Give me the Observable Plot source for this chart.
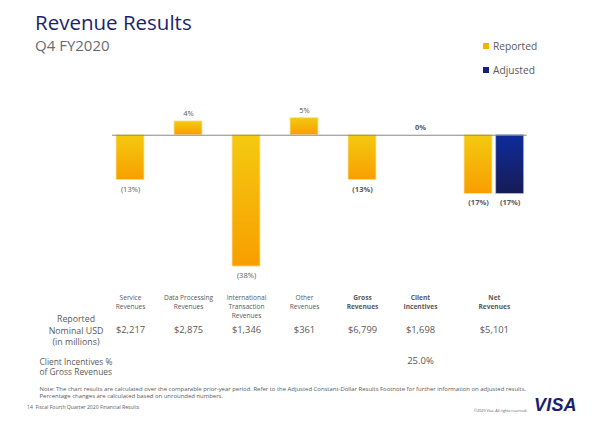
<!DOCTYPE html>
<html>
<head>
<meta charset="utf-8">
<script src="https://cdn.jsdelivr.net/npm/d3@7"></script>
<script src="https://cdn.jsdelivr.net/npm/@observablehq/plot@0.6"></script>
<style>
  html, body { margin: 0; padding: 0; background: #fff; }
  #page { position: relative; width: 602px; height: 427px; overflow: hidden; font-family: "Open Sans", "Noto Sans", sans-serif; color: #595959; }
  .abs { position: absolute; white-space: nowrap; }
  #title { left: 35px; top: 12px; font-size: 20.5px; line-height: 1; color: #1a1f71; }
  #subtitle { left: 35px; top: 38px; font-size: 15px; line-height: 1; color: #6b6b6b; }
  .legend-item { display: flex; align-items: center; font-size: 10.2px; line-height: 1; color: #595959; }
  .swatch { width: 6px; height: 6px; margin-right: 4px; }
  #chart { position: absolute; left: 0; top: 90px; }
  #footer { left: 27px; top: 405px; font-size: 5.1px; line-height: 1; }
  #copyright { left: 474px; top: 409px; font-size: 3.7px; line-height: 1; }
  #logo { left: 534px; top: 396px; font-family: "Liberation Sans", sans-serif; font-weight: bold; font-style: italic; font-size: 18px; line-height: 1; color: #1a1f71; letter-spacing: 0.2px; }
</style>
</head>
<body>
<div id="page">
  <div id="title" class="abs">Revenue Results</div>
  <div id="subtitle" class="abs">Q4 FY2020</div>
  <div id="legend"></div>
  <div id="chart"></div>
  <div id="footer" class="abs">14&nbsp;&nbsp;Fiscal Fourth Quarter 2020 Financial Results</div>
  <div id="copyright" class="abs">©2020 Visa. All rights reserved.</div>
  <div id="logo" class="abs">VISA</div>
</div>
<script>
// Revenue lines, Q4 FY2020
const categories = [
  "Service Revenues", "Data Processing Revenues", "International Transaction Revenues",
  "Other Revenues", "Gross Revenues", "Client Incentives", "Net Revenues"
];
const categoryLabels = [
  "Service\nRevenues", "Data Processing\nRevenues", "International\nTransaction\nRevenues",
  "Other\nRevenues", "Gross\nRevenues", "Client\nIncentives", "Net\nRevenues"
];
// Year-over-year change, percent
const reportedChange = [-13, 4, -38, 5, -13, 0, -17];
const adjustedCategories = ["Net Revenues"];
const adjustedChange = [-17];
// Reported nominal USD, millions
const nominalUSD = [2217, 2875, 1346, 361, 6799, 1698, 5101];
// Client incentives as % of gross revenues
const incentiveCategory = "Client Incentives";
const incentivePctOfGross = 25.0;
// Summary lines shown in bold
const summaryCategories = ["Gross Revenues", "Client Incentives", "Net Revenues"];
// Row titles of the table under the bars
const rowTitles = ["Reported\nNominal USD\n(in millions)", "Client Incentives %\nof Gross Revenues"];
const noteText = "Note: The chart results are calculated over the comparable prior-year period. Refer to the Adjusted Constant-Dollar Results Footnote for further information on adjusted results.\nPercentage changes are calculated based on unrounded numbers.";

const series = [
  {name: "Reported", color: "#f7b200"},
  {name: "Adjusted", color: "#15207a"}
];

const reported = categories.map((c, i) => ({
  category: c, label: categoryLabels[i], value: reportedChange[i], usd: nominalUSD[i],
  bold: summaryCategories.includes(c)
}));
const adjusted = adjustedCategories.map((c, i) => ({
  category: c, value: adjustedChange[i], bold: true
}));

const pct = v => v < 0 ? `(${Math.abs(v)}%)` : `${v}%`;
const usd = v => "$" + d3.format(",")(v);
const adjustedOffset = 31.7;   // Adjusted bar sits just right of Reported
const netOffset = adjustedOffset / 2; // table text centred on the pair
const textColor = "#595959";

// Bar value labels: below negative bars, above the others
function valueLabels(data, extra = {}) {
  const marks = [];
  for (const bold of [false, true]) {
    const sub = data.filter(d => d.bold === bold);
    marks.push(Plot.text(sub.filter(d => d.value < 0), {
      x: "category", y: "value", text: d => pct(d.value), dy: 9,
      fontSize: 7.5, fill: textColor, fontWeight: bold ? "bold" : "normal", ...extra
    }));
    marks.push(Plot.text(sub.filter(d => d.value >= 0), {
      x: "category", y: "value", text: d => pct(d.value), dy: -7.5,
      fontSize: 7.5, fill: textColor, fontWeight: bold ? "bold" : "normal", ...extra
    }));
  }
  return marks;
}

// Table rows under the chart, one column per category
function tableText(text, opts) {
  const isNet = d => d.category === "Net Revenues";
  const groups = [
    {filter: d => !d.bold, bold: false, dx: 0},
    {filter: d => d.bold && !isNet(d), bold: true, dx: 0},
    {filter: d => isNet(d), bold: true, dx: netOffset}
  ];
  return groups.map(g => Plot.text(reported.filter(g.filter), {
    x: "category", text, frameAnchor: "bottom", fill: textColor,
    fontWeight: (opts.boldable && g.bold) ? "bold" : "normal",
    dx: g.dx, ...opts.style
  }));
}

const chart = Plot.plot({
  width: 602,
  height: 337,
  marginTop: 24,
  marginBottom: 154,
  marginLeft: 82,
  marginRight: 77,
  style: {fontFamily: "'Open Sans', 'Noto Sans', sans-serif", overflow: "visible", background: "transparent"},
  x: {type: "band", domain: categories, padding: 0.52, axis: null},
  y: {domain: [-40, 6], axis: null},
  marks: [
    Plot.barY(reported, {
      x: "category", y: "value", fill: "url(#grad-reported)",
      stroke: "#fde7a0", strokeWidth: 0.8
    }),
    Plot.barY(adjusted, {
      x: "category", y: "value", dx: adjustedOffset, fill: "url(#grad-adjusted)",
      stroke: "#b3bce6", strokeWidth: 0.8
    }),
    Plot.ruleY([0], {stroke: "#8a8a8a", strokeWidth: 1, insetLeft: 30, insetRight: -1.6}),
    ...valueLabels(reported),
    ...valueLabels(adjusted, {dx: adjustedOffset}),
    ...tableText("label", {boldable: true, style: {fontSize: 6.6, lineAnchor: "top", lineHeight: 1.36, dy: 20}}),
    ...tableText(d => usd(d.usd), {boldable: false, style: {fontSize: 9.4, lineAnchor: "middle", dy: 56.5}}),
    Plot.text(reported.filter(d => d.category === incentiveCategory), {
      x: "category", text: () => d3.format(".1f")(incentivePctOfGross) + "%",
      frameAnchor: "bottom", dy: 87, fontSize: 9.5, fill: textColor, lineAnchor: "middle"
    }),
    // Row titles at the left of the table
    Plot.text([rowTitles[0]], {
      text: d => d, frameAnchor: "bottom-left", dx: -6.5, dy: 56.5,
      textAnchor: "middle", lineAnchor: "middle", fontSize: 8.8, lineHeight: 1.3, fill: textColor
    }),
    Plot.text([rowTitles[1]], {
      text: d => d, frameAnchor: "bottom-left", dx: -43, dy: 93,
      textAnchor: "start", lineAnchor: "middle", fontSize: 8.4, lineHeight: 1.2, fill: textColor
    }),
    // Footnote
    Plot.text([noteText], {
      text: d => d, frameAnchor: "bottom-left", dx: -43, dy: 118.7,
      textAnchor: "start", lineAnchor: "middle", fontSize: 5.95, lineHeight: 1.12, fill: textColor
    })
  ]
});

// Vertical gradients used by the bars
const defs = d3.select(chart).insert("defs", ":first-child");
function gradient(id, top, bottom) {
  const g = defs.append("linearGradient").attr("id", id)
    .attr("x1", 0).attr("y1", 0).attr("x2", 0).attr("y2", 1);
  g.append("stop").attr("offset", "0%").attr("stop-color", top);
  g.append("stop").attr("offset", "100%").attr("stop-color", bottom);
}
gradient("grad-reported", "#f4ca10", "#f89e00");
gradient("grad-adjusted", "#0e2c9c", "#171b56");

document.getElementById("chart").appendChild(chart);

// Legend
const legend = document.getElementById("legend");
series.forEach((s, i) => {
  const item = document.createElement("div");
  item.className = "abs legend-item";
  item.style.left = "483px";
  item.style.top = (41 + i * 23.5) + "px";
  const sw = document.createElement("span");
  sw.className = "swatch";
  sw.style.background = s.color;
  item.appendChild(sw);
  item.appendChild(document.createTextNode(s.name));
  legend.appendChild(item);
});
</script>
</body>
</html>
